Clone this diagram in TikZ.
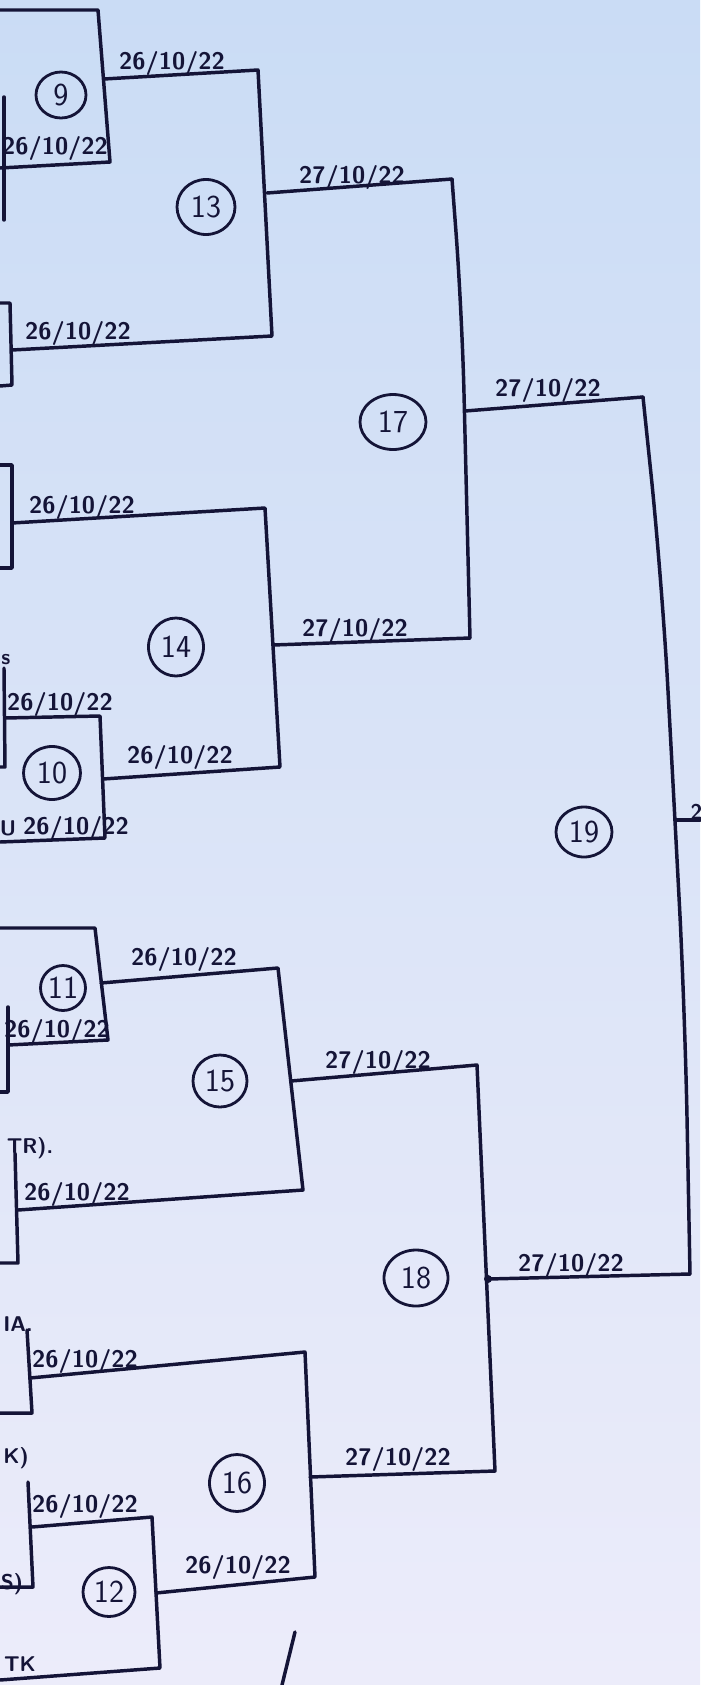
\documentclass[tikz,border=0pt]{standalone}
\usetikzlibrary{shapes.geometric}

\definecolor{ink}{RGB}{20,20,55}
\definecolor{papertop}{RGB}{202,220,245}
\definecolor{paperbot}{RGB}{236,236,250}

\tikzset{every picture/.style={line width=2.6pt}}
\tikzset{
  bline/.style={draw=ink, line width=2.6pt, line join=round, line cap=round},
  dte/.style={text=ink, inner sep=0.75pt, font=\fontsize{18}{20}\selectfont\sffamily\bfseries},
  frag/.style={text=ink, inner sep=0.75pt, font=\fontsize{16}{18}\selectfont\sffamily\bfseries},
  match/.style={draw=ink, ellipse, line width=2.1pt, inner sep=0pt, text=ink, font=\fontsize{24}{26}\selectfont\sffamily},
  sz/.style 2 args={minimum width=#1*0.75pt, minimum height=#2*0.75pt}
}

\begin{document}
\begin{tikzpicture}[x=0.75pt,y=0.75pt,yscale=-1,xscale=1]
%set diagram to the photo, 700 wide and 1685 high
\useasboundingbox (0,0) rectangle (700,1685);
\shade [top color=papertop, bottom color=paperbot] (0,0) rectangle (700,1685);

% corners of the brackets
\coordinate (n9tl) at (0,10);
\coordinate (n9tr) at (98,10);
\coordinate (n9br) at (110,162);
\coordinate (n9bl) at (0,168);
\coordinate (n9out) at (104,79);
\coordinate (n13tr) at (258,70);
\coordinate (n13br) at (272,336);
\coordinate (n13bl) at (12,350);
\coordinate (n13out) at (267,193);
\coordinate (n14tl) at (12,523);
\coordinate (n14tr) at (265,508);
\coordinate (n14br) at (280,767);
\coordinate (n14out) at (273,645);
\coordinate (n10tl) at (5,718);
\coordinate (n10tr) at (100,716);
\coordinate (n10br) at (105,838);
\coordinate (n10bl) at (0,842);
\coordinate (n10out) at (103,779);
\coordinate (n17tr) at (452,179);
\coordinate (n17md) at (462,312);
\coordinate (n17br) at (470,638);
\coordinate (n17out) at (465,411);
\coordinate (n11tl) at (0,928);
\coordinate (n11tr) at (95,928);
\coordinate (n11br) at (108,1040);
\coordinate (n11bl) at (8,1045);
\coordinate (n11out) at (101,983);
\coordinate (n15tr) at (278,968);
\coordinate (n15br) at (303,1190);
\coordinate (n15bl) at (18,1210);
\coordinate (n15out) at (291,1081);
\coordinate (n16tl) at (30,1378);
\coordinate (n16tr) at (305,1352);
\coordinate (n16br) at (315,1577);
\coordinate (n16out) at (310,1477);
\coordinate (n12tl) at (32,1527);
\coordinate (n12tr) at (152,1517);
\coordinate (n12br) at (160,1668);
\coordinate (n12bl) at (0,1680);
\coordinate (n12out) at (156,1593);
\coordinate (n18tr) at (477,1065);
\coordinate (n18br) at (495,1471);
\coordinate (n18out) at (488,1279);
\coordinate (n19tr) at (643,397);
\coordinate (n19m1) at (662,580);
\coordinate (n19out) at (675,820);
\coordinate (n19m2) at (685,1012);
\coordinate (n19br) at (690,1274);
\coordinate (n19end) at (700,820);

%Straight Lines
\draw [bline] (n9tl) -- (n9tr) -- (n9br) -- (n9bl) ;
%Straight Lines
\draw [bline] (n9out) -- (n13tr) -- (n13br) -- (n13bl) ;
%Straight Lines
\draw [bline] (n13out) -- (n17tr) ;
\draw [bline, rounded corners=60pt] (n17tr) -- (n17md) -- (n17br) ;
\draw [bline] (n17br) -- (n14out) ;
%Straight Lines
\draw [bline] (n14tl) -- (n14tr) -- (n14br) -- (n10out) ;
%Straight Lines
\draw [bline] (n10tl) -- (n10tr) -- (n10br) -- (n10bl) ;
%Straight Lines
\draw [bline] (n17out) -- (n19tr) ;
\draw [bline, rounded corners=80pt] (n19tr) -- (n19m1) -- (n19out) -- (n19m2) -- (n19br) ;
\draw [bline] (n19br) -- (n18out) ;
%Straight Lines
\draw [bline] (n19out) -- (n19end) ;
%Straight Lines
\draw [bline] (n11tl) -- (n11tr) -- (n11br) -- (n11bl) ;
%Straight Lines
\draw [bline] (n11out) -- (n15tr) -- (n15br) -- (n15bl) ;
%Straight Lines
\draw [bline] (n15out) -- (n18tr) -- (n18br) -- (n16out) ;
%Straight Lines
\draw [bline] (n16tl) -- (n16tr) -- (n16br) -- (n12out) ;
%Straight Lines
\draw [bline] (n12tl) -- (n12tr) -- (n12br) -- (n12bl) ;
\fill [ink] (n18out) circle (4) ;

%Straight Lines (cut off at the left edge)
\draw [bline] (4,97) -- (4,220) ;
\draw [bline] (0,303) -- (10,303) -- (12,385) -- (0,386) ;
\draw [bline] (0,465) -- (12,465) -- (12,568) -- (0,568) ;
\draw [bline] (4,668) -- (5,767) -- (0,767) ;
\draw [bline] (8,1007) -- (8,1092) -- (0,1092) ;
\draw [bline] (15,1153) -- (18,1263) -- (0,1263) ;
\draw [bline] (27,1330) -- (32,1413) -- (0,1413) ;
\draw [bline] (28,1482) -- (33,1587) -- (0,1587) ;
%Straight Lines
\draw [bline] (295,1632) -- (282,1685) ;

% Match circles
\draw (61,95) node (m9) [match, sz={50}{46}] {9};
\draw (206,207) node (m13) [match, sz={58}{55}] {13};
\draw (176,647) node (m14) [match, sz={55}{58}] {14};
\draw (52,773) node (m10) [match, sz={57}{53}] {10};
\draw (63,988) node (m11) [match, sz={45}{45}] {11};
\draw (220,1081) node (m15) [match, sz={54}{52}] {15};
\draw (237,1483) node (m16) [match, sz={55}{57}] {16};
\draw (109,1592) node (m12) [match, sz={52}{49}] {12};
\draw (393,422) node (m17) [match, sz={66}{55}] {17};
\draw (416,1278) node (m18) [match, sz={64}{56}] {18};
\draw (584,832) node (m19) [match, sz={56}{50}] {19};

% Text Node
\draw (55,148) node (d9a) [dte] {26/10/22};
% Text Node
\draw (172,63) node (d9b) [dte] {26/10/22};
% Text Node
\draw (78,333) node (d13a) [dte] {26/10/22};
% Text Node
\draw (352,177) node (d13b) [dte] {27/10/22};
% Text Node
\draw (82,507) node (d14a) [dte] {26/10/22};
% Text Node
\draw (355,630) node (d14b) [dte] {27/10/22};
% Text Node
\draw (60,704) node (d10a) [dte] {26/10/22};
% Text Node
\draw (76,828) node (d10b) [dte] {26/10/22};
% Text Node
\draw (180,757) node (d10c) [dte] {26/10/22};
% Text Node
\draw (57,1031) node (d11a) [dte] {26/10/22};
% Text Node
\draw (184,959) node (d11b) [dte] {26/10/22};
% Text Node
\draw (77,1194) node (d15a) [dte] {26/10/22};
% Text Node
\draw (378,1062) node (d15b) [dte] {27/10/22};
% Text Node
\draw (85,1361) node (d16a) [dte] {26/10/22};
% Text Node
\draw (398,1459) node (d16b) [dte] {27/10/22};
% Text Node
\draw (85,1506) node (d12a) [dte] {26/10/22};
% Text Node
\draw (238,1567) node (d12b) [dte] {26/10/22};
% Text Node
\draw (548,390) node (d17) [dte] {27/10/22};
% Text Node
\draw (571,1265) node (d18) [dte] {27/10/22};

% Text Node (pieces cut off at the edges)
\draw (6,660) node (f1) [frag] {s};
\draw (8,828) node (f2) [frag] {U};
\draw (30,1148) node (f3) [frag] {TR).};
\draw (18,1324) node (f4) [frag] {IA.};
\draw (16,1458) node (f5) [frag] {K)};
\draw (12,1584) node (f6) [frag] {S)};
\draw (20,1664) node (f7) [frag] {TK};
\draw (688,812) node (f8) [frag, anchor=west] {2};

\end{tikzpicture}
\end{document}
